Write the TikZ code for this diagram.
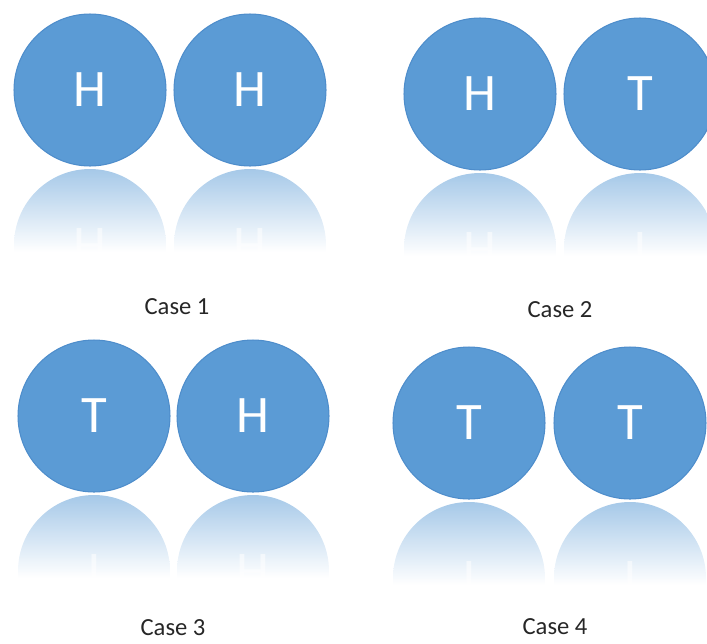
\documentclass[tikz,border=0pt]{standalone}
\usepackage{fontspec}
\setmainfont{Carlito}
\usepackage{tikz}
\usetikzlibrary{positioning}
\definecolor{coinblue}{HTML}{5B9BD5}
\definecolor{coinedge}{HTML}{4E8DCB}

\begin{document}
\begin{tikzpicture}[
  x=0.02cm, y=-0.02cm,
  coin/.style={circle, fill=coinblue, draw=coinedge, line width=0.6pt,
    minimum size=3.04cm, inner sep=0pt, text=white, font=\fontsize{30}{30}\selectfont},
  coinletter/.style={text=white, font=\fontsize{30}{30}\selectfont},
  caselabel/.style={text=black!85, inner sep=1pt, font=\fontsize{14}{14}\selectfont},
]
\useasboundingbox (0,0) rectangle (707,643);
% ---------- coins with their reflections ----------
\foreach \nm/\cx/\cy/\lt in {%
  c1a/90/90/H, c1b/250/90/H,
  c2a/480/94/H, c2b/640/94/T,
  c3a/94/416/T, c3b/253/416/H,
  c4a/469/423/T, c4b/630/423/T%
} {
  \begin{scope}
    \clip (\cx,\cy+155) circle[radius=1.52cm];
    \shade[top color=coinblue!55!white, bottom color=white]
      (\cx-80,\cy+78) rectangle (\cx+80,\cy+162);
    \node[coinletter, yscale=-1, opacity=0.55] at (\cx,\cy+155) {\lt};
  \end{scope}
  \node[coin] (\nm) at (\cx,\cy) {\lt};
}
% ---------- case labels ----------
\node[caselabel] (case1) at (177,307) {Case 1};
\node[caselabel] (case2) at (560,310) {Case 2};
\node[caselabel] (case3) at (173,628) {Case 3};
\node[caselabel] (case4) at (555,627) {Case 4};
\end{tikzpicture}
\end{document}
